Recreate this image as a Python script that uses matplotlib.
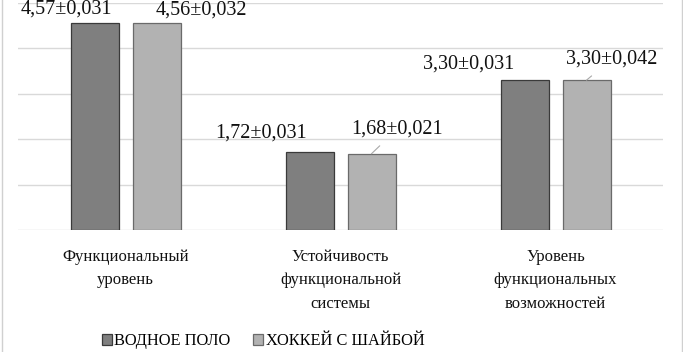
import numpy as np
import matplotlib.pyplot as plt
from matplotlib.lines import Line2D

# data
categories = ["Функциональный\nуровень",
              "Устойчивость\nфункциональной\nсистемы",
              "Уровень\nфункциональных\nвозможностей"]
series_names = ["ВОДНОЕ ПОЛО", "ХОККЕЙ С ШАЙБОЙ"]
polo_values = [4.57, 1.72, 3.30]
polo_errors = ["0,031", "0,031", "0,031"]
hockey_values = [4.56, 1.68, 3.30]
hockey_errors = ["0,032", "0,021", "0,042"]

# label offsets in pixels (dx, dy) from bar top centre, as placed in the original
polo_offsets = [(-28, 13), (-48, 19), (-56, 16)]
hockey_offsets = [(45, 13), (26, 25), (25, 21)]

plt.rcParams['font.family'] = ['Liberation Serif', 'DejaVu Serif']

W, H = 683, 352
fig = plt.figure(figsize=(W / 100, H / 100), dpi=100)
ax = fig.add_axes([18 / W, 1 - 230 / H, 645 / W, 227 / H])

x = np.arange(len(categories))
bw = 48 / 215
gap = 14 / 215
polo_bars = ax.bar(x - (bw + gap) / 2, polo_values, bw, color="#7f7f7f",
                   edgecolor="#3a3a3a", linewidth=0.9, zorder=3, label=series_names[0])
hockey_bars = ax.bar(x + (bw + gap) / 2, hockey_values, bw, color="#b2b2b2",
                     edgecolor="#6a6a6a", linewidth=0.9, zorder=3, label=series_names[1])

ax.set_xlim(-0.5, len(categories) - 0.5)
ax.set_ylim(0, 5)
ax.set_yticks(np.arange(0, 6, 1))
ax.yaxis.grid(True, color="#d9d9d9", linewidth=1.0)
ax.set_axisbelow(True)
for s in ax.spines.values():
    s.set_visible(False)
ax.tick_params(left=False, bottom=False, labelleft=False)
ax.set_xticks(x)
ax.set_xticklabels(categories, fontsize=12, color="#111111", linespacing=1.62)
ax.tick_params(axis="x", pad=10)


def fmt(v, err):
    return f"{v:.2f}".replace(".", ",") + "±" + err


def px2pt(p):
    return p * 72 / 100


for bars, vals, errs, offs, leader in [
        (polo_bars, polo_values, polo_errors, polo_offsets, False),
        (hockey_bars, hockey_values, hockey_errors, hockey_offsets, True)]:
    for i, (b, v, e, (dx, dy)) in enumerate(zip(bars, vals, errs, offs)):
        cx = b.get_x() + b.get_width() / 2
        arrow = None
        if leader and i > 0:
            arrow = dict(arrowstyle="-", color="#a8a8a8", lw=0.8,
                         shrinkA=5, shrinkB=0)
        ax.annotate(fmt(v, e), xy=(cx, v), xytext=(px2pt(dx), px2pt(dy)),
                    textcoords="offset points", ha="center", va="center",
                    fontsize=14.5, color="#111111", arrowprops=arrow,
                    annotation_clip=False)

# legend
handles = [plt.Rectangle((0, 0), 1, 1, facecolor="#7f7f7f", edgecolor="#3a3a3a", lw=0.9),
           plt.Rectangle((0, 0), 1, 1, facecolor="#b2b2b2", edgecolor="#6a6a6a", lw=0.9)]
fig.legend(handles, series_names, loc="center", bbox_to_anchor=(263 / W, 1 - 341 / H),
           ncol=2, frameon=False, fontsize=11.8, handlelength=0.6, handleheight=0.7,
           handletextpad=0.15, columnspacing=1.4, borderaxespad=0)

# chart border
fig.add_artist(Line2D([1.5 / W, 1.5 / W], [0, 1], color="#d0d0d0", lw=1))
fig.add_artist(Line2D([681.5 / W, 681.5 / W], [0, 1], color="#d0d0d0", lw=1))

fig.savefig("out.png", dpi=100)
